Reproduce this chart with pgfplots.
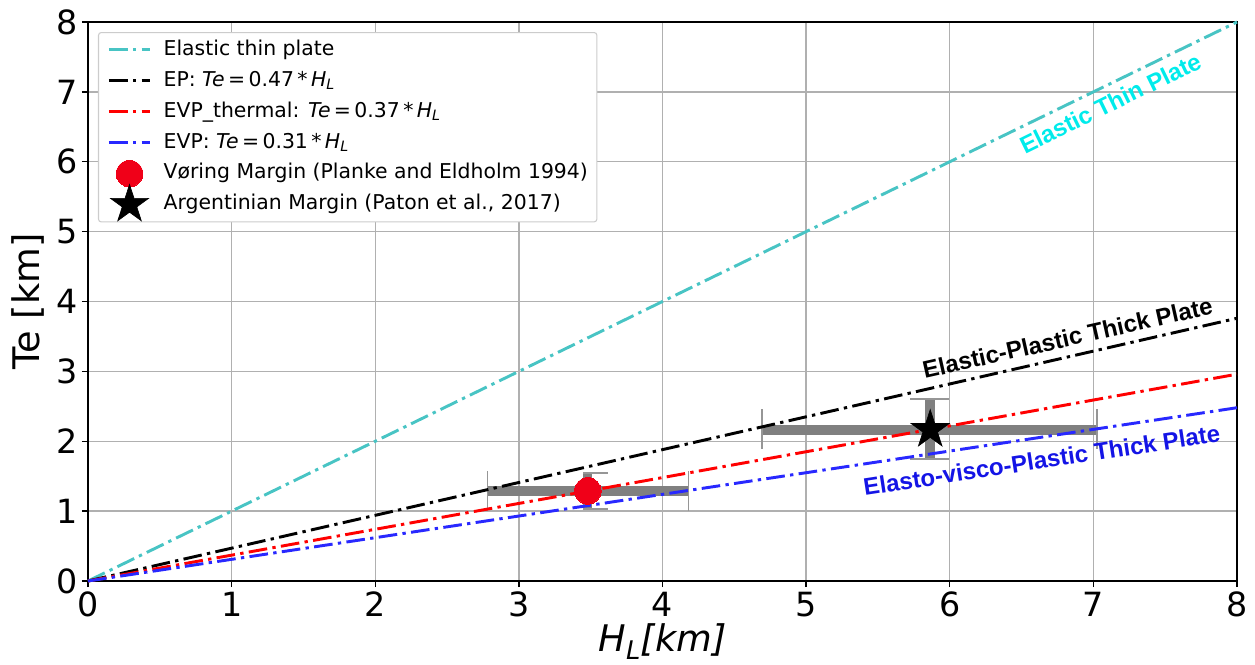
\documentclass[border=0pt]{standalone}
\usepackage{fontspec}
\setmainfont{DejaVu Sans}
\newfontfamily\arialfont{Liberation Sans}
\usepackage{pgfplots}
\pgfplotsset{compat=1.18}

\definecolor{cline}{RGB}{72,196,196}
\definecolor{rline}{RGB}{255,0,0}
\definecolor{bline}{RGB}{40,40,255}
\definecolor{rmark}{RGB}{240,0,24}
\definecolor{ctext}{RGB}{0,235,235}
\definecolor{btext}{RGB}{20,20,230}
\definecolor{gridc}{RGB}{176,176,176}
\definecolor{ebar}{RGB}{128,128,128}
\definecolor{ecap}{RGB}{150,150,150}

\pgfdeclareplotmark{fstar}{%
  \pgfpathmoveto{\pgfpointpolar{90}{\pgfplotmarksize}}%
  \pgfpathlineto{\pgfpointpolar{126}{0.382\pgfplotmarksize}}%
  \pgfpathlineto{\pgfpointpolar{162}{\pgfplotmarksize}}%
  \pgfpathlineto{\pgfpointpolar{198}{0.382\pgfplotmarksize}}%
  \pgfpathlineto{\pgfpointpolar{234}{\pgfplotmarksize}}%
  \pgfpathlineto{\pgfpointpolar{270}{0.382\pgfplotmarksize}}%
  \pgfpathlineto{\pgfpointpolar{306}{\pgfplotmarksize}}%
  \pgfpathlineto{\pgfpointpolar{342}{0.382\pgfplotmarksize}}%
  \pgfpathlineto{\pgfpointpolar{18}{\pgfplotmarksize}}%
  \pgfpathlineto{\pgfpointpolar{54}{0.382\pgfplotmarksize}}%
  \pgfpathclose
  \pgfusepathqfillstroke
}

\tikzset{dashdotmpl/.style={line width=2.2pt, dash pattern=on 14pt off 4pt on 2.5pt off 4pt}}
\pgfplotsset{
  mylinelegend/.style={legend image code/.code={\path[draw=none,fill=none] (0pt,-4pt) rectangle (41pt,4pt);\draw[##1] (0pt,0pt) -- (30.75pt,0pt);}},
  mymarklegend/.style={legend image code/.code={\path[draw=none,fill=none] (0pt,-4pt) rectangle (41pt,4pt);\draw[##1, overlay] plot coordinates {(15.4pt,0pt)};}},
}

\begin{document}
\begin{tikzpicture}
\useasboundingbox (-66pt,-62.25pt) rectangle (875.25pt,435.75pt);
\begin{axis}[
  at={(0,0)}, anchor=south west,
  scale only axis, width=861.75pt, height=419.25pt,
  xmin=0, xmax=8, ymin=0, ymax=8,
  xtick={0,1,...,8}, ytick={0,1,...,8},
  grid=major,
  major grid style={gridc, line width=1.1pt},
  axis line style={black, line width=1.1pt},
  tick align=outside, xtick pos=bottom, ytick pos=left,
  major tick length=4.5pt,
  tick style={black, line width=1.1pt},
  /pgf/number format/assume math mode=true,
  tick label style={font=\fontsize{25}{30}\selectfont},
  xlabel={\textit{H}\textsubscript{\textit{L}}\textit{[km]}},
  ylabel={Te [km]},
  every axis x label/.style={at={(axis description cs:0.5,-0.127)}, anchor=base, font=\fontsize{27.5}{33}\selectfont},
  every axis y label/.style={at={(axis description cs:-0.0522,0.5)}, anchor=center, rotate=90, font=\fontsize{27.5}{33}\selectfont},
  clip=false,
  legend cell align=left,
  legend style={
    at={(axis description cs:0,1)}, anchor=north west, xshift=7.5pt, yshift=-7.5pt,
    font=\fontsize{15.3}{18}\selectfont,
    draw=black!20, line width=0.8pt, rounded corners=2pt, fill=white,
    inner xsep=6.75pt, inner ysep=5pt, row sep=7.2pt,
    nodes={inner xsep=0pt, inner ysep=0pt, text height=12pt, text depth=4pt},
  },
]
% error bars (drawn first)
\addplot[forget plot, ebar, line width=7.5pt] coordinates {(2.78,1.29) (4.18,1.29)};
\addplot[forget plot, ebar, line width=6.5pt] coordinates {(3.48,1.03) (3.48,1.55)};
\addplot[forget plot, ecap, line width=1.1pt] coordinates {(2.78,1.0) (2.78,1.574)};
\addplot[forget plot, ecap, line width=1.1pt] coordinates {(4.18,1.0) (4.18,1.574)};
\addplot[forget plot, ecap, line width=1.1pt] coordinates {(3.447,1.545) (3.621,1.545)};
\addplot[forget plot, ecap, line width=1.1pt] coordinates {(3.447,1.03) (3.621,1.03)};

\addplot[forget plot, ebar, line width=7.5pt] coordinates {(4.694,2.165) (7.026,2.165)};
\addplot[forget plot, ebar, line width=7.5pt] coordinates {(5.864,1.745) (5.864,2.604)};
\addplot[forget plot, ecap, line width=1.1pt] coordinates {(4.694,1.89) (4.694,2.46)};
\addplot[forget plot, ecap, line width=1.1pt] coordinates {(7.026,1.89) (7.026,2.46)};
\addplot[forget plot, ecap, line width=1.1pt] coordinates {(5.724,2.604) (5.996,2.604)};
\addplot[forget plot, ecap, line width=1.1pt] coordinates {(5.724,1.745) (5.996,1.745)};

% lines
\addplot[cline, dashdotmpl, mylinelegend] coordinates {(0,0) (8,8)};
\addlegendentry{Elastic thin plate}
\addplot[black, dashdotmpl, mylinelegend] coordinates {(0,0) (8,3.76)};
\addlegendentry{EP: \textit{Te}\,=\,0.47\,*\,\textit{H}\textsubscript{\textit{L}}}
\addplot[rline, dashdotmpl, mylinelegend] coordinates {(0,0) (8,2.96)};
\addlegendentry{EVP\_thermal: \textit{Te}\,=\,0.37\,*\,\textit{H}\textsubscript{\textit{L}}}
\addplot[bline, dashdotmpl, mylinelegend] coordinates {(0,0) (8,2.48)};
\addlegendentry{EVP: \textit{Te}\,=\,0.31\,*\,\textit{H}\textsubscript{\textit{L}}}

% markers
\addplot[rmark, only marks, mark=*, mark size=10pt, mark options={draw=rmark, fill=rmark, line width=0pt}, mymarklegend] coordinates {(3.48,1.29)};
\addlegendentry{Vøring Margin (Planke and Eldholm 1994)}
\addplot[black, only marks, mark=fstar, mark size=15pt, mark options={draw=black, fill=black, line width=0.5pt}, mymarklegend] coordinates {(5.864,2.165)};
\addlegendentry{Argentinian Margin (Paton et al., 2017)}

% annotations
\node[rotate=26, text=ctext, font=\arialfont\bfseries\fontsize{18}{21}\selectfont] at (axis cs:7.12,6.84) {Elastic Thin Plate};
\node[rotate=12.7, text=black, font=\arialfont\bfseries\fontsize{18}{21}\selectfont] at (axis cs:6.82,3.48) {Elastic-Plastic Thick Plate};
\node[rotate=8.7, text=btext, font=\arialfont\bfseries\fontsize{18}{21}\selectfont] at (axis cs:6.64,1.73) {Elasto-visco-Plastic Thick Plate};
\end{axis}
\end{tikzpicture}
\end{document}
